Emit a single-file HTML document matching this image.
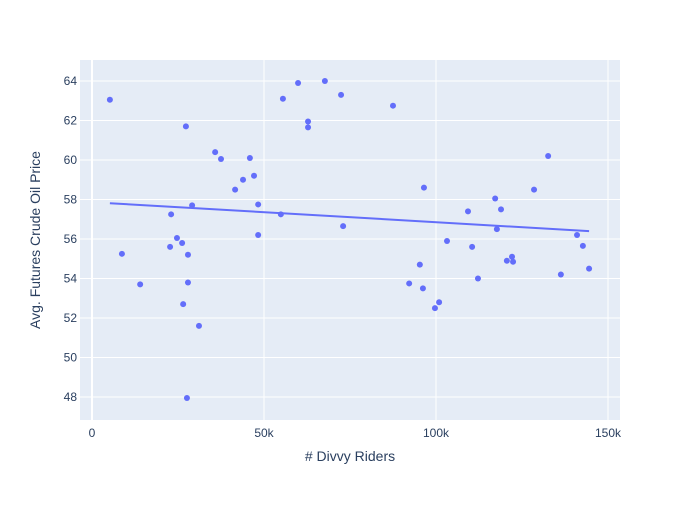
<!DOCTYPE html>
<html><head><meta charset="utf-8"><style>
body{margin:0;background:#fff;font-family:"Liberation Sans",Arial,sans-serif}
svg text{font-family:"Liberation Sans",Arial,sans-serif;fill:#2a3f5f}
</style></head><body>
<svg id="chart" width="700" height="500">
<rect x="0" y="0" width="700" height="500" fill="#fff"/>
<rect x="80" y="60" width="540" height="360" fill="#e5ecf6"/>
<g id="grid"></g><g id="ticks"></g><g id="trend"></g><g id="points"></g>
<text x="350" y="461" font-size="14" text-anchor="middle"># Divvy Riders</text>
<text transform="translate(40,240) rotate(-90)" font-size="14" text-anchor="middle">Avg. Futures Crude Oil Price</text>
</svg>
<script>
const riders=[5.2,8.7,14.0,23.0,22.7,24.7,26.2,27.3,27.9,26.5,27.9,27.6,29.1,31.1,35.8,37.5,41.6,43.9,45.9,47.1,48.3,48.3,54.9,55.5,59.9,62.8,62.8,67.7,72.4,73.0,87.5,92.2,95.3,96.2,96.5,99.7,100.9,103.2,109.3,110.5,112.2,117.2,117.7,118.9,120.6,122.1,122.4,128.5,132.6,136.3,141.0,142.7,144.5];
const prices=[63.05,55.25,53.7,57.25,55.6,56.05,55.8,61.7,55.2,52.7,53.8,47.95,57.7,51.6,60.4,60.05,58.5,59.0,60.1,59.2,57.75,56.2,57.25,63.1,63.9,61.95,61.65,64.0,63.3,56.65,62.75,53.75,54.7,53.5,58.6,52.5,52.8,55.9,57.4,55.6,54.0,58.05,56.5,57.5,54.9,55.1,54.85,58.5,60.2,54.2,56.2,55.65,54.5];
const xTicks=[0,50,100,150];
const xTickLabels=["0","50k","100k","150k"];
const yTicks=[48,50,52,54,56,58,60,62,64];
const NS="http://www.w3.org/2000/svg";
const X=v=>92+(v*1000)*(172/50000);
const Y=v=>81+(64-v)*19.75;
function mk(tag,attrs,parent){const e=document.createElementNS(NS,tag);for(const k in attrs)e.setAttribute(k,attrs[k]);parent.appendChild(e);return e;}
const grid=document.getElementById('grid'),ticks=document.getElementById('ticks');
xTicks.forEach((t,i)=>{
  const l=mk('line',{x1:X(t),x2:X(t),y1:60,y2:420,stroke:'#fff','stroke-width':t===0?2:1},grid);
  
  
  const tx=mk('text',{x:X(t),y:437,'font-size':12,'text-anchor':'middle'},ticks);
  tx.textContent=xTickLabels[i];
  
  
});
yTicks.forEach(t=>{
  const l=mk('line',{x1:80,x2:620,y1:Y(t),y2:Y(t),stroke:'#fff','stroke-width':1},grid);
  
  
  const tx=mk('text',{x:77,y:Y(t)+4,'font-size':12,'text-anchor':'end'},ticks);
  tx.textContent=t;
  
  
});
// OLS trendline
const n=riders.length;
const mx=riders.reduce((a,b)=>a+b,0)/n,my=prices.reduce((a,b)=>a+b,0)/n;
let sxy=0,sxx=0;for(let i=0;i<n;i++){sxy+=(riders[i]-mx)*(prices[i]-my);sxx+=(riders[i]-mx)**2;}
const slope=sxy/sxx,icpt=my-slope*mx;
const xmin=Math.min(...riders),xmax=Math.max(...riders);
const tl=mk('line',{x1:X(xmin),y1:Y(icpt+slope*xmin),x2:X(xmax),y2:Y(icpt+slope*xmax),stroke:'#636efa','stroke-width':2},document.getElementById('trend'));


const pts=document.getElementById('points');
riders.forEach((r,i)=>{
  const c=mk('circle',{cx:X(r),cy:Y(prices[i]),r:3,fill:'#636efa'},pts);
  
  
});
</script>
</body></html>
